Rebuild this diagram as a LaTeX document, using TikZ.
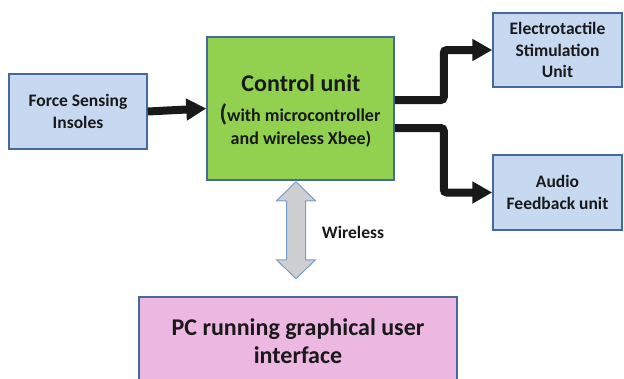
\documentclass[tikz,border=0pt]{standalone}
\usepackage{fontspec}
\setmainfont{Carlito}
\usetikzlibrary{arrows.meta,calc}
\definecolor{boxblue}{RGB}{198,217,240}
\definecolor{edgeblue}{RGB}{70,105,155}
\definecolor{ctrlgreen}{RGB}{146,208,80}
\definecolor{pcpink}{RGB}{236,184,226}
\definecolor{wgray}{RGB}{205,207,209}
\definecolor{wedge}{RGB}{120,155,205}
\definecolor{txt}{RGB}{25,25,25}
\tikzset{
  blockbox/.style={draw=edgeblue, line width=1.5pt, fill=boxblue, text=txt,
    font=\bfseries\fontsize{17.5}{21.5}\selectfont, align=center, inner sep=0pt},
  flowarrow/.style={draw=txt, line width=8pt, rounded corners=3pt,
    -{Triangle[length=20pt,width=21pt]}},
}
\begin{document}
\begin{tikzpicture}[x=1pt,y=-1pt]
\useasboundingbox (0,0) rectangle (624,378);
\node[blockbox, minimum width=138pt, minimum height=75pt] (force) at (78,111.5)
  {Force Sensing\\Insoles};
\node[blockbox, fill=ctrlgreen, minimum width=187pt, minimum height=143pt] (ctrl) at (300.5,108.5) {};
\node[text=txt, font=\bfseries, align=center, anchor=base] (ctitle) at (301,91)
  {\fontsize{24}{28}\selectfont Control unit};
\node[text=txt, font=\bfseries, anchor=base] (csub1) at (300,121)
  {{\fontsize{24}{28}\selectfont(}\fontsize{18}{22}\selectfont with microcontroller};
\node[text=txt, font=\bfseries\fontsize{18}{22}\selectfont, anchor=base] (csub2) at (301,144)
  {and wireless Xbee)};
\node[blockbox, minimum width=129pt, minimum height=74pt] (elec) at (557.5,50)
  {Electrotactile\\Stimulation\\Unit};
\node[blockbox, minimum width=129pt, minimum height=75pt] (audio) at (557.5,192.5)
  {Audio\\Feedback unit};
\node[blockbox, fill=pcpink, font=\bfseries\fontsize{24}{28}\selectfont,
  minimum width=318pt, minimum height=88pt] (pc) at (298,341)
  {PC running graphical user\\interface};
\draw[flowarrow] (force.east) -- (ctrl.west);
\draw[flowarrow] ([yshift=8.5pt]ctrl.east) -- ++(49,0) |- (elec.west);
\draw[flowarrow] ([yshift=-19.5pt]ctrl.east) -- ++(49,0) |- (audio.west);
\coordinate (wtop) at ([xshift=-4.5pt,yshift=-1pt]ctrl.south);
\coordinate (wbot) at ([xshift=-2pt,yshift=19pt]pc.north);
\draw[draw=wedge, fill=wgray, line width=1pt, line join=miter]
  (wtop) -- ++(19.5,19) -- ++(-10,0) -- ++(0,59) -- ++(10,0) -- ++(-19.5,19)
  -- ++(-19.5,-19) -- ++(10,0) -- ++(0,-59) -- ++(-10,0) -- cycle;
\node[text=txt, font=\bfseries\fontsize{17.5}{21}\selectfont] (wl) at (353,232) {Wireless};
\end{tikzpicture}
\end{document}
